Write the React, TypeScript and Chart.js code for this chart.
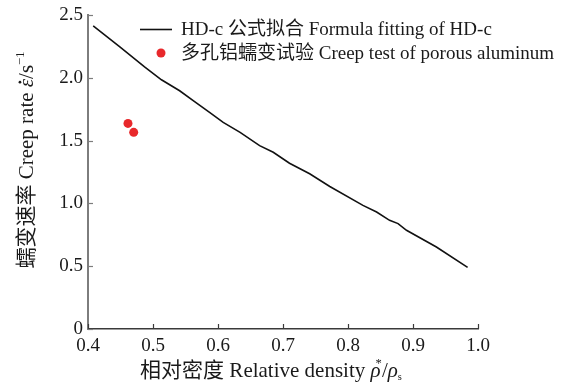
import { useEffect, useRef } from 'react';
import { Chart, registerables } from 'chart.js';

Chart.register(...registerables);

// HD-c formula fitting curve: relative density vs. creep rate
const fitDensity = [0.408, 0.449, 0.487, 0.513, 0.541, 0.564, 0.587, 0.608, 0.634, 0.664, 0.685, 0.71, 0.741, 0.772, 0.823, 0.844, 0.864, 0.877, 0.89, 0.936, 0.984];
const fitRate = [2.413, 2.246, 2.087, 1.984, 1.897, 1.81, 1.725, 1.645, 1.566, 1.46, 1.407, 1.32, 1.236, 1.135, 0.984, 0.931, 0.865, 0.839, 0.786, 0.653, 0.49];

// Creep tests of porous aluminium
const testDensity = [0.4615, 0.4703];
const testRate = [1.637, 1.566];

const xMin = 0.4;
const xMax = 1.0;
const xStep = 0.1;
const yMin = 0;
const yMax = 2.5;
const yStep = 0.5;

const fitLabel = 'HD-c 公式拟合 Formula fitting of HD-c';
const testLabel = '多孔铝蠕变试验 Creep test of porous aluminum';

const SERIF = '"Liberation Serif", "Noto Sans CJK SC", serif';
const TEXT = '#1a1a1a';
const AXIS_Y = '#7d7d7d';
const AXIS_X = '#3a3a3a';
const RED = '#e8282b';

type Seg = { text: string; italic?: boolean; scale?: number; shift?: number; dx?: number; dot?: boolean };

function drawRich(ctx: CanvasRenderingContext2D, segs: Seg[], cx: number, baseline: number, size: number) {
  const fontOf = (s: Seg) => `${s.italic ? 'italic ' : ''}${size * (s.scale ?? 1)}px ${SERIF}`;
  let total = 0;
  for (const s of segs) {
    ctx.font = fontOf(s);
    total += ctx.measureText(s.text).width + (s.dx ?? 0);
  }
  let x = cx - total / 2;
  ctx.textAlign = 'left';
  ctx.textBaseline = 'alphabetic';
  ctx.fillStyle = TEXT;
  for (const s of segs) {
    ctx.font = fontOf(s);
    x += s.dx ?? 0;
    const w = ctx.measureText(s.text).width;
    ctx.fillText(s.text, x, baseline + (s.shift ?? 0) * size);
    if (s.dot) {
      ctx.beginPath();
      ctx.arc(x + w * 0.6, baseline - size * 0.62, size * 0.065, 0, Math.PI * 2);
      ctx.fill();
    }
    x += w;
  }
}

const xTitle: Seg[] = [
  { text: '相对密度 Relative density ' },
  { text: 'ρ', italic: true },
  { text: '*', scale: 0.6, shift: -0.5, dx: -5 },
  { text: '/' },
  { text: 'ρ', italic: true },
  { text: 's', scale: 0.5, shift: 0.15 },
];

const yTitle: Seg[] = [
  { text: '蠕变速率 Creep rate ' },
  { text: 'ε', italic: true, dot: true },
  { text: '/s' },
  { text: '−1', scale: 0.6, shift: -0.45 },
];

const decorPlugin = {
  id: 'decor',
  afterDraw(chart: any) {
    const { ctx, chartArea } = chart;
    const xs = chart.scales.x;
    const ys = chart.scales.y;
    ctx.save();

    // inward tick marks
    ctx.lineWidth = 1.2;
    ctx.strokeStyle = AXIS_X;
    for (const t of xs.ticks) {
      const px = Math.round(xs.getPixelForValue(t.value)) + 0.5;
      ctx.beginPath();
      ctx.moveTo(px, chartArea.bottom);
      ctx.lineTo(px, chartArea.bottom - 5);
      ctx.stroke();
    }
    ctx.strokeStyle = AXIS_Y;
    for (const t of ys.ticks) {
      const py = Math.round(ys.getPixelForValue(t.value)) + 0.5;
      ctx.beginPath();
      ctx.moveTo(chartArea.left, py);
      ctx.lineTo(chartArea.left + 5, py);
      ctx.stroke();
    }

    // axis titles
    drawRich(ctx, xTitle, (chartArea.left + chartArea.right) / 2 - 12, 377, 21);
    ctx.save();
    ctx.translate(33, (chartArea.top + chartArea.bottom) / 2 - 12);
    ctx.rotate(-Math.PI / 2);
    drawRich(ctx, yTitle, 0, 0, 21);
    ctx.restore();

    // legend
    const ds = chart.data.datasets;
    ctx.font = `19px ${SERIF}`;
    ctx.textAlign = 'left';
    ctx.textBaseline = 'middle';
    ctx.fillStyle = TEXT;
    ctx.strokeStyle = ds[0].borderColor;
    ctx.lineWidth = 1.6;
    ctx.beginPath();
    ctx.moveTo(140, 29.5);
    ctx.lineTo(172, 29.5);
    ctx.stroke();
    ctx.fillText(ds[0].label, 181, 30);
    ctx.fillStyle = ds[1].backgroundColor;
    ctx.beginPath();
    ctx.arc(161, 53, 4.5, 0, Math.PI * 2);
    ctx.fill();
    ctx.fillStyle = TEXT;
    ctx.fillText(ds[1].label, 181, 54);

    ctx.restore();
  },
};

export default function App() {
  const ref = useRef<HTMLCanvasElement | null>(null);

  useEffect(() => {
    if (!ref.current) return;
    const chart = new Chart(ref.current, {
      type: 'line',
      data: {
        datasets: [
          {
            label: fitLabel,
            data: fitDensity.map((x, i) => ({ x, y: fitRate[i] })),
            borderColor: '#111111',
            borderWidth: 1.6,
            pointRadius: 0,
            tension: 0,
            fill: false,
          },
          {
            type: 'scatter',
            label: testLabel,
            data: testDensity.map((x, i) => ({ x, y: testRate[i] })),
            backgroundColor: RED,
            borderColor: RED,
            borderWidth: 0,
            pointRadius: 4.5,
            showLine: false,
          } as any,
        ],
      },
      options: {
        responsive: false,
        animation: false,
        layout: { padding: { top: 15, right: 84, left: 0, bottom: 0 } },
        plugins: { legend: { display: false }, tooltip: { enabled: false } },
        scales: {
          x: {
            type: 'linear',
            min: xMin,
            max: xMax,
            grid: { display: false, drawTicks: false, tickLength: 0 },
            border: { display: true, color: AXIS_X, width: 1.5 },
            ticks: {
              stepSize: xStep,
              padding: 6,
              color: TEXT,
              font: { family: SERIF, size: 19 },
              maxRotation: 0,
              callback: (v: any) => Number(v).toFixed(1),
            },
            afterFit: (s: any) => {
              s.height = 58;
              s.paddingLeft = 0;
              s.paddingRight = 0;
            },
          },
          y: {
            type: 'linear',
            min: yMin,
            max: yMax,
            grid: { display: false, drawTicks: false, tickLength: 0 },
            border: { display: true, color: AXIS_Y, width: 2 },
            ticks: {
              stepSize: yStep,
              padding: 5,
              color: TEXT,
              font: { family: SERIF, size: 19 },
              callback: (v: any) => (Number(v) === 0 ? '0' : Number(v).toFixed(1)),
            },
            afterFit: (s: any) => {
              s.width = 88;
              s.paddingTop = 0;
              s.paddingBottom = 0;
            },
          },
        },
      },
      plugins: [decorPlugin],
    });
    return () => chart.destroy();
  }, []);

  return (
    <div style={{ position: 'fixed', left: 0, top: 0, width: 562, height: 387, background: '#ffffff' }}>
      <canvas ref={ref} width={562} height={387} style={{ display: 'block' }} />
    </div>
  );
}
